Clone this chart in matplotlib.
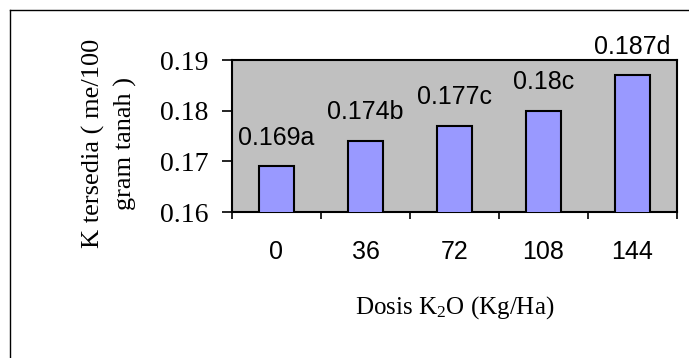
import matplotlib
matplotlib.use("Agg")
import matplotlib.pyplot as plt
from matplotlib.lines import Line2D

plt.rcParams["mathtext.fontset"] = "custom"
plt.rcParams["mathtext.rm"] = "Liberation Serif"
plt.rcParams["mathtext.it"] = "Liberation Serif:italic"

# data
doses = ["0", "36", "72", "108", "144"]
k_available = [0.169, 0.174, 0.177, 0.180, 0.187]
bar_labels = ["0.169a", "0.174b", "0.177c", "0.18c", "0.187d"]
y_ticks = [0.16, 0.17, 0.18, 0.19]

fig = plt.figure(figsize=(6.89, 3.58), dpi=100)
fig.patch.set_facecolor("white")

# frame lines (left and top)
fig.add_artist(Line2D([10 / 689, 10 / 689], [0, 1 - 10 / 358],
                      transform=fig.transFigure, color="black", lw=1))
fig.add_artist(Line2D([10 / 689, 1], [1 - 10 / 358, 1 - 10 / 358],
                      transform=fig.transFigure, color="black", lw=1))

ax = fig.add_axes([232 / 689, 1 - 212 / 358, 445 / 689, 152 / 358])
ax.set_facecolor("#C0C0C0")

x = list(range(len(doses)))
bars = ax.bar(x, k_available, width=0.40, color="#9999FF",
              edgecolor="black", linewidth=1.5, zorder=3)

for b, lab in zip(bars, bar_labels):
    ax.annotate(lab, (b.get_x() + b.get_width() / 2, b.get_height()),
                xytext=(0, 12), textcoords="offset points",
                ha="center", va="bottom", fontsize=18,
                family="Liberation Sans", annotation_clip=False)

ax.set_xlim(-0.5, len(doses) - 0.5)
ax.set_ylim(0.16, 0.19)
ax.set_yticks(y_ticks)
ax.set_yticklabels(["%.2f" % v for v in y_ticks], family="Liberation Serif", fontsize=20)
ax.tick_params(axis="y", direction="out", length=7, width=1.2, pad=10)

ax.set_xticks(x)
ax.set_xticklabels(doses, family="Liberation Sans", fontsize=18)
ax.set_xticks([i - 0.5 for i in range(len(doses) + 1)], minor=True)
ax.tick_params(axis="x", which="major", length=0, pad=20)
ax.tick_params(axis="x", which="minor", direction="out", length=5, width=1.2)

for s in ax.spines.values():
    s.set_linewidth(1.5)

ax.set_xlabel("Dosis K$_2$O (Kg/Ha)", family="Liberation Serif", fontsize=18)
ax.xaxis.set_label_coords(0.5, -0.54)

ax.set_ylabel("K tersedia ( me/100\ngram tanah )", family="Liberation Serif",
              fontsize=19, linespacing=1.5, va="center", ha="center")
ax.yaxis.set_label_coords(-0.276, 0.45)

fig.savefig("out.png", dpi=100)
